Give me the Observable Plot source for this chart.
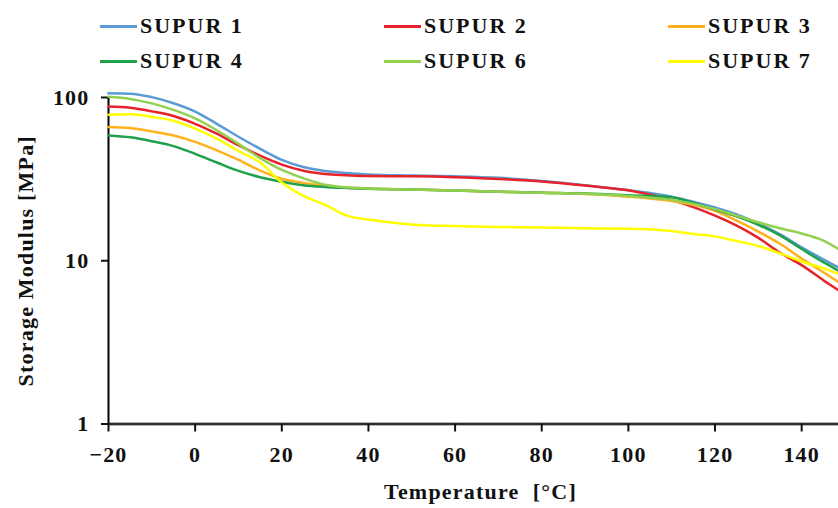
<!DOCTYPE html>
<html><head><meta charset="utf-8">
<script src="https://cdn.jsdelivr.net/npm/d3@7"></script>
<script src="https://cdn.jsdelivr.net/npm/@observablehq/plot@0.6"></script>
<style>
body{margin:0;background:#fff;}
#wrap{width:838px;height:508px;position:relative;overflow:hidden;font-family:"Liberation Serif","Times New Roman",serif;}
#legend{position:relative;height:80px;}
.item{position:absolute;display:flex;align-items:center;height:24px;font-weight:bold;font-size:22px;letter-spacing:2px;color:#111;}
.sw{width:37px;height:3px;margin-right:3px;}
</style></head><body><div id="wrap"><div id="legend"></div><div id="chart"></div></div>
<script>
const temperature = [-20,-15,-10,-5,0,5,10,15,20,25,30,35,40,50,60,70,80,90,100,110,115,120,125,130,135,140,145,148.5];
const supur1 = [106,105.5,100.5,92.2,82,69,57.5,48.5,41.5,37.5,35.5,34.5,33.8,33.3,32.9,32.2,30.8,29,27,24.7,23,21.2,19.2,16.9,14.5,12.1,10.2,9.1];
const supur2 = [88,86.5,82.2,77,69,60,51,44,38.8,35.6,34,33.4,33,32.9,32.5,31.7,30.6,28.9,27,23.5,21.3,18.9,16.4,13.8,11.2,9.4,7.6,6.6];
const supur3 = [66,65,62,58.5,53.5,47.5,41.5,35.7,31.8,30,28.8,28,27.7,27.3,26.9,26.5,26.1,25.6,24.7,23.2,22,20.2,17.6,15.1,12.7,10.3,8.5,7.4];
const supur4 = [58.5,57,54,50.4,45.2,40,35.5,32.5,30.5,29,28.3,27.9,27.6,27.3,26.9,26.5,26.1,25.8,25.2,24.5,22.6,20.6,18.7,16.6,14.3,11.8,9.8,8.7];
const supur6 = [101,98,92,84,74.5,63,52,42.5,36,32,29.2,28.2,27.7,27.3,26.9,26.5,26.1,25.7,24.9,23.6,22.3,20.7,18.9,17.2,15.8,14.7,13.3,11.8];
const supur7 = [78.5,79,76,72,64.5,56,47,40,30.2,25,22,18.9,17.9,16.7,16.3,16.1,16,15.8,15.7,15.2,14.6,14.1,13.2,12.3,11.1,9.9,9,8.3];
const seriesNames = ["SUPUR 1","SUPUR 2","SUPUR 3","SUPUR 4","SUPUR 6","SUPUR 7"];
const seriesColors = ["#5B9BD5","#E8222B","#FFB21E","#1FA04A","#92D050","#FFFF00"];
const seriesValues = [supur1,supur2,supur3,supur4,supur6,supur7];
const xTicks = [-20,0,20,40,60,80,100,120,140];
const yTicks = [1,10,100];
const xTitle = "Temperature\u00a0 [°C]";
const yTitle = "Storage Modulus [MPa]";

const data = [];
seriesNames.forEach((name, i) => {
  temperature.forEach((t, j) => data.push({series: name, temperature: t, modulus: seriesValues[i][j]}));
});

// legend
const legend = document.getElementById("legend");
seriesNames.forEach((name, i) => {
  const row = Math.floor(i / 3), col = i % 3;
  const item = document.createElement("div");
  item.className = "item";
  item.style.left = (100 + col * 284) + "px";
  item.style.top = (14 + row * 35) + "px";
  const sw = document.createElement("span");
  sw.className = "sw";
  sw.style.background = seriesColors[i];
  const label = document.createElement("span");
  label.textContent = name;
  item.appendChild(sw); item.appendChild(label);
  legend.appendChild(item);
});

const chart = Plot.plot({
  width: 838,
  height: 428,
  marginLeft: 108,
  marginRight: 0,
  marginTop: 17,
  marginBottom: 84.5,
  x: {domain: [-20, 148.5]},
  y: {type: "log", domain: [1, 100]},
  color: {domain: seriesNames, range: seriesColors},
  style: {fontFamily: "'Liberation Serif', 'Times New Roman', serif", fontSize: "22px", fontWeight: "bold", letterSpacing: "1.2px", color: "#111", background: "#fff", overflow: "visible"},
  marks: [
    Plot.ruleY([1], {stroke: "#b5b5b5", strokeWidth: 4}),
    Plot.ruleY([1], {stroke: "#000", strokeWidth: 1.4}),
    Plot.ruleX([-20], {y1: 1, y2: 100, stroke: "#000", strokeWidth: 2}),
    Plot.axisX({ticks: xTicks, tickSize: 8, tickPadding: 14, label: null, strokeWidth: 2,
      tickFormat: d => d < 0 ? "\u2212" + Math.abs(d) : String(d)}),
    Plot.axisY({ticks: yTicks, tickSize: 7, tickPadding: 12, label: null, strokeWidth: 2,
      tickFormat: d => String(d)}),
    Plot.line(data, {x: "temperature", y: "modulus", stroke: "series", curve: "monotone-x", strokeWidth: 2.5}),
    Plot.text([xTitle], {text: d => d, frameAnchor: "bottom", dx: 7, dy: 74.5, lineAnchor: "bottom", fontSize: 22, fontWeight: "bold"}),
    Plot.text([yTitle], {text: d => d, frameAnchor: "left", textAnchor: "middle", lineAnchor: "middle", rotate: -90, dx: -83, fontSize: 22, fontWeight: "bold"})
  ]
});
document.getElementById("chart").appendChild(chart);
</script>
</body></html>
